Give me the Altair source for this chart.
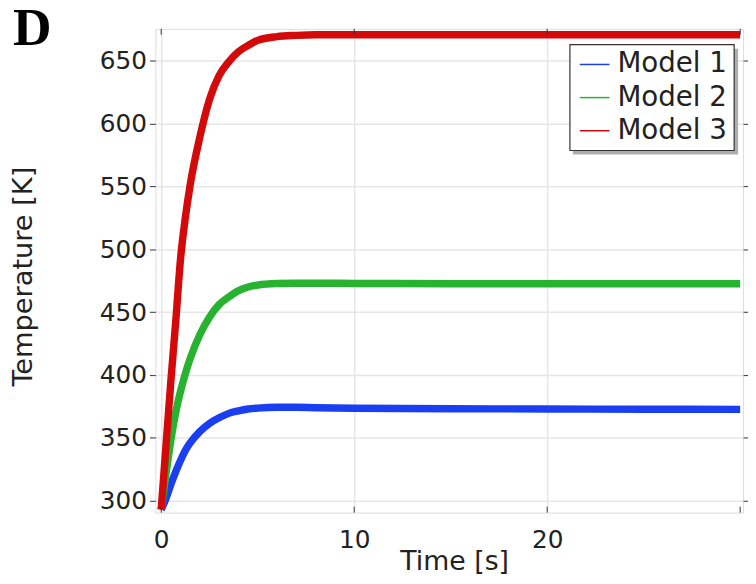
import altair as alt
import pandas as pd

# ---- data ----
time_s = [0, 0.2, 0.5, 0.75, 1, 1.25, 1.5, 2, 2.5, 3, 3.5, 4, 4.5, 5, 6, 7, 8, 10, 15, 20, 25, 30]
model1 = [293, 300, 313, 323, 332, 340, 346, 355, 361.5, 366, 369.5, 371.5, 373, 373.7, 374.3, 374.3, 374, 373.6, 373.2, 373, 372.8, 372.7]
model2 = [293, 316, 348, 370, 387, 401, 413, 432, 446, 456, 462, 467, 470, 471.5, 472.7, 473, 473, 472.8, 472.6, 472.5, 472.5, 472.5]
model3 = [293, 334, 395, 442, 492, 525, 551, 589, 619, 638, 649, 657, 662, 666, 669, 670, 670.5, 670.5, 670.5, 670.5, 670.5, 670.5]
models = ["Model 1", "Model 2", "Model 3"]
colors = ["#1a3ff2", "#27b22f", "#d40a0a"]
x_tick_values = [0, 10, 20, 30]
x_label_values = [0, 10, 20]
y_tick_values = [300, 350, 400, 450, 500, 550, 600, 650]
panel_letter = ["D"]

rows = []
for name, series in zip(models, [model1, model2, model3]):
    for t, v in zip(time_s, series):
        rows.append({"Time": t, "Temperature": v, "Model": name})
df = pd.DataFrame(rows)
ticks_df = pd.DataFrame({"Time": x_tick_values})
letter_df = pd.DataFrame({"label": panel_letter})

W, H = 594, 489
FONT = "DejaVu Sans"

x_scale = alt.Scale(domain=[-0.3, 30.15], nice=False, zero=False)
y_scale = alt.Scale(domain=[290.6, 675.2], nice=False, zero=False)

lines = alt.Chart(df).mark_line(strokeWidth=7.5, clip=True, strokeJoin="round",
                                interpolate="monotone").encode(
    x=alt.X("Time:Q", scale=x_scale,
            axis=alt.Axis(title="Time [s]", values=x_label_values, tickSize=0, labelPadding=15,
                          labelFontSize=25, titleFontSize=27, labelFont=FONT, titleFont=FONT,
                          titleFontWeight="normal", labelColor="#222", titleColor="#222",
                          titleX=302, titleAlign="center",
                          titleY=57, titleBaseline="alphabetic", domain=False,
                          gridColor="#e6e6e6", gridWidth=1.5, format="d")),
    y=alt.Y("Temperature:Q", scale=y_scale,
            axis=alt.Axis(title="Temperature [K]", values=y_tick_values, tickSize=6, labelPadding=3,
                          labelFontSize=25, titleFontSize=27.5, labelFont=FONT, titleFont=FONT,
                          titleFontWeight="normal", labelColor="#222", titleColor="#222",
                          tickColor="#333", titleX=-125, titleY=250, titleAngle=-90,
                          titleBaseline="alphabetic", titleAlign="center", domain=False,
                          gridColor="#e6e6e6", gridWidth=1.5)),
    color=alt.Color("Model:N", scale=alt.Scale(domain=models, range=colors),
                    legend=alt.Legend(title=None, orient="none", legendX=420, legendY=12,
                                      strokeColor="transparent", fillColor="transparent", padding=8,
                                      labelFontSize=28, labelFont=FONT, labelColor="#222",
                                      symbolType="stroke", symbolSize=900, symbolStrokeWidth=1.5,
                                      rowPadding=3.5, labelOffset=7)),
    order=alt.Order("Model:N"),
)

bottom_ticks = alt.Chart(ticks_df).mark_rule(color="#333", strokeWidth=1).encode(
    x=alt.X("Time:Q", scale=x_scale), y=alt.value(H), y2=alt.value(H - 6))
top_ticks = alt.Chart(ticks_df).mark_rule(color="#333", strokeWidth=1).encode(
    x=alt.X("Time:Q", scale=x_scale), y=alt.value(0), y2=alt.value(6))

right_axis = alt.Chart(df).mark_point(opacity=0).encode(
    x=alt.X("Time:Q", scale=x_scale),
    y=alt.Y("Temperature:Q", scale=y_scale,
            axis=alt.Axis(orient="right", values=y_tick_values, labels=False, title=None,
                          grid=False, domain=False, tickSize=5, tickColor="#333")),
)

# legend box with drop shadow (drawn beneath the legend entries)
shadow = alt.Chart(letter_df).mark_rect(color="#a0a0a0", opacity=0.85).encode(
    x=alt.value(422), x2=alt.value(589), y=alt.value(20), y2=alt.value(127))
legend_box = alt.Chart(letter_df).mark_rect(fill="white", stroke="#333", strokeWidth=1.2).encode(
    x=alt.value(419), x2=alt.value(585), y=alt.value(16), y2=alt.value(123))

letter = alt.Chart(letter_df).mark_text(
    font="Liberation Serif", fontSize=54, fontWeight="bold", color="black",
    align="left", baseline="alphabetic").encode(
    text="label:N", x=alt.value(-144), y=alt.value(16))

chart = alt.layer(lines, bottom_ticks, top_ticks, right_axis, shadow, legend_box, letter).resolve_axis(
    y="independent"
).properties(
    width=W, height=H,
    autosize=alt.AutoSizeParams(type="none"),
    padding={"left": 149, "top": 18, "right": 5, "bottom": 61},
).configure_view(
    stroke="#333", strokeWidth=1.2
).configure(background="white")

chart.save("out.html", embed_options={"renderer": "svg", "actions": False})
